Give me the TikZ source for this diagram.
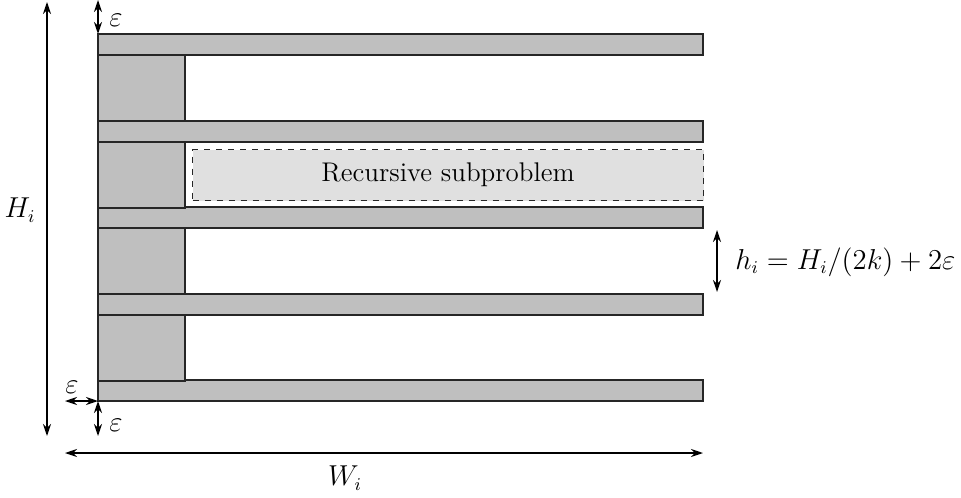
\documentclass[tikz,border=0pt]{standalone}
\usetikzlibrary{arrows.meta}
\begin{document}
\begin{tikzpicture}[x=0.5pt,y=-0.5pt,
  bar/.style={draw=black!85,fill=black!25,line width=0.6pt},
  subbox/.style={draw=black!85,dashed,fill=black!12,line width=0.6pt},
  dim/.style={{Stealth[length=6pt,width=4pt]}-{Stealth[length=6pt,width=4pt]},line width=0.7pt},
  lbl/.style={font=\fontsize{13.5}{16}\selectfont,inner sep=1pt}]
\useasboundingbox (0,0) rectangle (961,497);
% long bars
\foreach \y in {34,121,207,294,380}
  \draw[bar] (98,\y) rectangle (703,\y+21);
% blocks
\foreach \y in {55,142,228,315}
  \draw[bar] (98,\y) rectangle (185,\y+66);
% recursive subproblem
\node[subbox,minimum width=511*0.5pt,minimum height=51*0.5pt,anchor=north west,
      font=\fontsize{13.5}{16}\selectfont] (sub) at (192,149) {Recursive subproblem};
% coordinates
\coordinate (Htop) at (47,2);
\coordinate (Hbot) at (47,436);
\coordinate (etop) at (98,0);
\coordinate (etopb) at (98,34);
\coordinate (ehl) at (65,401);
\coordinate (ehr) at (98,401);
\coordinate (evb) at (98,436);
\coordinate (Wl) at (65,453);
\coordinate (Wr) at (703,453);
\coordinate (ht) at (717,230);
\coordinate (hb) at (717,292);
% dimension arrows
\draw[dim] (Htop) -- (Hbot);
\draw[dim] (etop) -- (etopb);
\draw[dim] (ehl) -- (ehr);
\draw[dim] (ehr) -- (evb);
\draw[dim] (Wl) -- (Wr);
\draw[dim] (ht) -- (hb);
% labels
\node[lbl] (lH) at (20,210) {$H_i$};
\node[lbl] (le1) at (116,20) {$\varepsilon$};
\node[lbl] (le2) at (72,387) {$\varepsilon$};
\node[lbl] (le3) at (116,425) {$\varepsilon$};
\node[lbl] (lW) at (345,478) {$W_i$};
\node[lbl,anchor=west] (lh) at (733,262) {$h_i = H_i/(2k) + 2\varepsilon$};
\end{tikzpicture}
\end{document}
